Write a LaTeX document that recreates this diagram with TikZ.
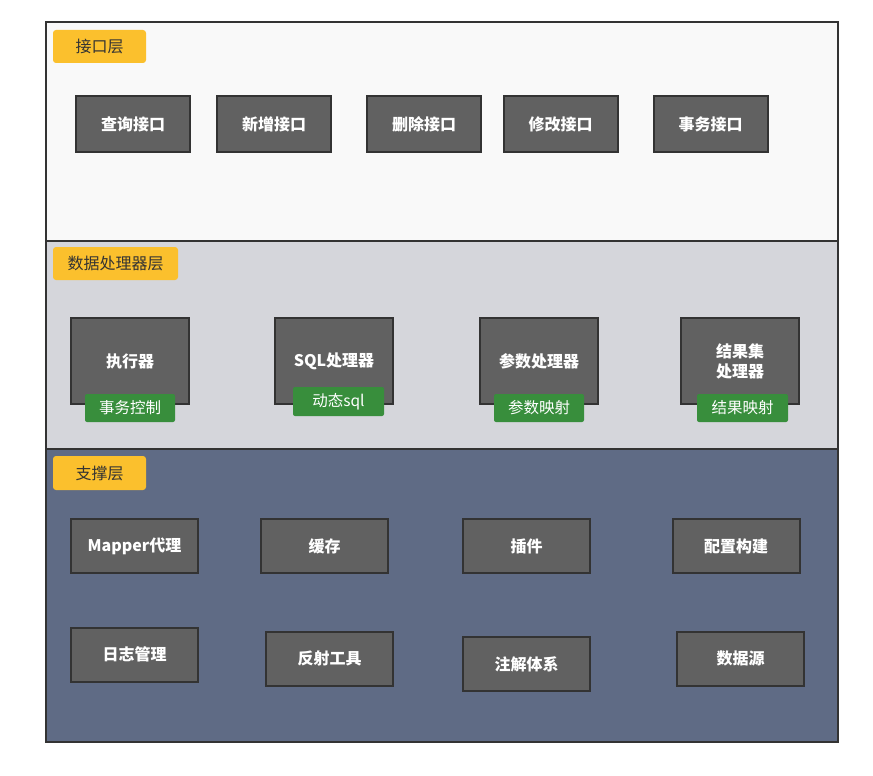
\documentclass[tikz,border=0pt]{standalone}
\usepackage{fontspec}
\setmainfont{Noto Sans CJK SC}
\definecolor{frame}{HTML}{333333}
\definecolor{boxfill}{HTML}{616161}
\definecolor{tagfill}{HTML}{388E3C}
\definecolor{lblfill}{HTML}{FBC02D}
\definecolor{layA}{HTML}{F9F9F9}
\definecolor{layB}{HTML}{D5D6DB}
\definecolor{layC}{HTML}{5F6B85}
\begin{document}
\begin{tikzpicture}[x=1pt,y=-1pt,
  layer/.style={draw=frame,line width=2pt},
  comp/.style={draw=frame,line width=2pt,fill=boxfill,text=white,font=\fontsize{16}{20}\selectfont\bfseries,align=center,inner sep=0pt},
  tag/.style={fill=tagfill,rounded corners=2pt,text=white,font=\fontsize{15.5}{17}\selectfont,inner sep=0pt,minimum width=90pt,minimum height=28pt},
  lbl/.style={fill=lblfill,rounded corners=3pt,text=frame,font=\fontsize{16}{18}\selectfont,inner sep=0pt,minimum height=33pt}]
\useasboundingbox (0,0) rectangle (873,776);
\fill[white] (0,0) rectangle (873,776);
% layers
\draw[layer,fill=layA] (46,22) rectangle (838,241);
\draw[layer,fill=layB] (46,241) rectangle (838,449);
\draw[layer,fill=layC] (46,449) rectangle (838,742);
% labels
\node[lbl,minimum width=93pt] (l1) at (99.5,46.5) {接口层};
\node[lbl,minimum width=125pt] (l2) at (115.5,263.5) {数据处理器层};
\node[lbl,minimum width=93pt,minimum height=34pt] (l3) at (99.5,473) {支撑层};
% interface layer
\begin{scope}[every node/.append style={comp,minimum width=114pt,minimum height=56pt}]
\node (q) at (133,124) {查询接口};
\node (a) at (274,124) {新增接口};
\node (d) at (424,124) {删除接口};
\node (m) at (560.5,124) {修改接口};
\node (t) at (710.5,124) {事务接口};
\end{scope}
% processor layer
\begin{scope}[every node/.append style={comp,minimum width=118pt,minimum height=86pt}]
\node (ex) at (130,361) {执行器};
\node (sq) at (334,361) {SQL处理器};
\node (pa) at (539,361) {参数处理器};
\node (rs) at (740,361) {结果集\\处理器};
\end{scope}
\node[tag] (ex1) at (130,408) {事务控制};
\node[tag,minimum width=91pt,minimum height=29pt] (sq1) at (338.5,401.5) {动态sql};
\node[tag] (pa1) at (539,408) {参数映射};
\node[tag,minimum width=91pt] (rs1) at (742.5,408) {结果映射};
% support layer
\begin{scope}[every node/.append style={comp,minimum width=127pt,minimum height=54pt}]
\node (mp) at (134.5,546) {Mapper代理};
\node (ca) at (324.5,546) {缓存};
\node (pl) at (526.5,546) {插件};
\node (cf) at (736,546) {配置构建};
\node (lg) at (134.5,654.5) {日志管理};
\node (rf) at (329.5,658.5) {反射工具};
\node (an) at (526.5,664) {注解体系};
\node (ds) at (740.5,658.5) {数据源};
\end{scope}
\end{tikzpicture}
\end{document}
